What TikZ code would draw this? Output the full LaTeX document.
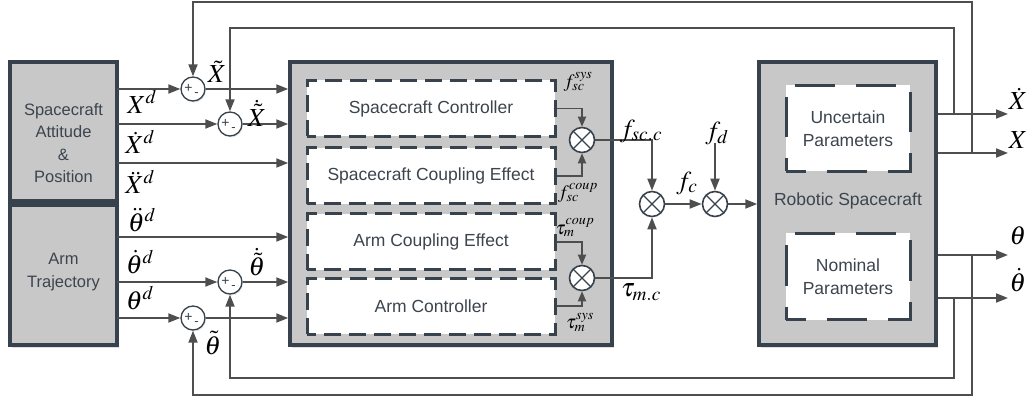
\documentclass[tikz,border=0pt]{standalone}
\usepackage{mathptmx}
\usepackage{fontspec}
\setmainfont{Liberation Sans}
\usetikzlibrary{arrows.meta,shadows}
\definecolor{boxgray}{RGB}{200,200,200}
\definecolor{edgeslate}{RGB}{56,66,76}
\definecolor{linegray}{RGB}{78,78,78}
\definecolor{textslate}{RGB}{60,68,78}

\tikzset{
  block/.style={draw=edgeslate, line width=3.5pt, fill=boxgray, inner sep=0pt,
    drop shadow={shadow xshift=1.5pt, shadow yshift=-2.5pt, opacity=0.25}},
  blocktext/.style={font=\fontsize{16.5}{22.5}\selectfont, text=textslate, align=center, inner sep=0pt},
  subbox/.style={draw=edgeslate, line width=3pt, fill=white, dash pattern=on 17pt off 8pt,
    dash phase=8pt, minimum width=248pt, minimum height=56pt, inner sep=0pt,
    font=\fontsize{17.5}{20}\selectfont, text=textslate},
  parbox/.style={draw=edgeslate, line width=3pt, fill=white, dash pattern=on 40pt off 21pt,
    dash phase=20pt, minimum width=124pt, minimum height=86pt, inner sep=0pt, align=center,
    font=\fontsize{17.5}{23}\selectfont, text=textslate},
  sumj/.style={circle, draw=edgeslate, line width=1.3pt, fill=white, minimum size=24pt, inner sep=0pt,
    drop shadow={shadow xshift=1pt, shadow yshift=-1.5pt, opacity=0.2},
    path picture={
      \node[font=\fontsize{14}{14}\selectfont, text=edgeslate, inner sep=0pt]
        at ([xshift=-4.5pt,yshift=1pt]path picture bounding box.center) {+};
      \node[font=\fontsize{13}{13}\selectfont, text=edgeslate, inner sep=0pt]
        at ([xshift=3.5pt,yshift=-6pt]path picture bounding box.center) {-};}},
  mult/.style={circle, draw=edgeslate, line width=1.6pt, fill=white, minimum size=25pt, inner sep=0pt,
    path picture={
      \draw[edgeslate, line width=1.3pt]
        (path picture bounding box.south west) -- (path picture bounding box.north east)
        (path picture bounding box.north west) -- (path picture bounding box.south east);}},
  sig/.style={draw=linegray, line width=1.8pt, -{Triangle[length=12pt,width=9pt]}},
  sigsmall/.style={draw=linegray, line width=1.8pt, -{Triangle[length=10pt,width=8pt]}},
  lbl/.style={font=\fontsize{26}{26}\selectfont, inner sep=0pt},
  lbls/.style={font=\fontsize{19}{19}\selectfont, inner sep=0pt}
}

\begin{document}
\begin{tikzpicture}[x=1pt,y=-1pt]
    \useasboundingbox (0,0) rectangle (1030,403);
    % Reference blocks
    \node[block, minimum width=107pt, minimum height=139pt] (sap) at (63.5,131.5) {};
    \node[blocktext] (saptxt) at (63.5,143) {Spacecraft\\Attitude\\\&\\Position};
    \node[block, minimum width=107pt, minimum height=140pt] (arm) at (63.5,275) {};
    \node[blocktext] (armtxt) at (63.5,272) {Arm\\Trajectory};
    % Controller block
    \node[block, minimum width=322pt, minimum height=283pt] (ctrl) at (451,203.5) {};
    \node[subbox] (scc) at (431,108.5) {Spacecraft Controller};
    \node[subbox] (sce) at (431,176) {Spacecraft Coupling Effect};
    \node[subbox] (ace) at (431,242) {Arm Coupling Effect};
    \node[subbox] (acc) at (431,306) {Arm Controller};
    % Plant block
    \node[block, minimum width=177pt, minimum height=283pt] (rs) at (847.5,203.5) {};
    \node[parbox] (unc) at (848,128.5) {Uncertain\\Parameters};
    \node[parbox] (nom) at (848,276.5) {Nominal\\Parameters};
    \node[blocktext, font=\fontsize{17.5}{22}\selectfont] (rstxt) at (848,201) {Robotic Spacecraft};
    % Summing junctions
    \node[sumj] (s1) at (193,89) {};
    \node[sumj] (s2) at (230,124) {};
    \node[sumj] (s3) at (230,282) {};
    \node[sumj] (s4) at (193,318) {};
    % Multipliers
    \node[mult] (m1) at (582,140) {};
    \node[mult] (m2) at (582,278) {};
    \node[mult] (a1) at (652,204) {};
    \node[mult] (a2) at (715,204) {};
    % Signal taps
    \coordinate (xd) at (117,89);
    \coordinate (xdd) at (117,124);
    \coordinate (xddd) at (117,163);
    \coordinate (thdd) at (117,237);
    \coordinate (thd) at (117,282);
    \coordinate (th) at (117,318);
    \coordinate (fd) at (715,143);
    \coordinate (outXd) at (1008,114);
    \coordinate (outX) at (1008,153);
    \coordinate (outth) at (1008,255);
    \coordinate (outthd) at (1008,298);
    \coordinate (tX) at (972,153);
    \coordinate (topA) at (972,2);
    \coordinate (tXd) at (954,114);
    \coordinate (topB) at (954,28);
    \coordinate (tth) at (972,255);
    \coordinate (botA) at (972,395);
    \coordinate (tthd) at (954,298);
    \coordinate (botB) at (954,378);
    % Desired states
    \draw[sig] (xd) -- (s1);
    \draw[sig] (s1) -- (s1 -| ctrl.west);
    \draw[sig] (xdd) -- (s2);
    \draw[sig] (s2) -- (s2 -| ctrl.west);
    \draw[sig] (xddd) -- (xddd -| ctrl.west);
    \draw[sig] (thdd) -- (thdd -| ctrl.west);
    \draw[sig] (thd) -- (s3);
    \draw[sig] (s3) -- (s3 -| ctrl.west);
    \draw[sig] (th) -- (s4);
    \draw[sig] (s4) -- (s4 -| ctrl.west);
    % Inside the controller
    \draw[sigsmall] (scc.east) -| (m1.north);
    \draw[sigsmall] (sce.east) -| (m1.south);
    \draw[sigsmall] (ace.east) -| (m2.north);
    \draw[sigsmall] (acc.east) -| (m2.south);
    % Control force
    \draw[sig] (m1.east) -| (a1.north);
    \draw[sig] (m2.east) -| (a1.south);
    \draw[sig] (a1) -- (a2);
    \draw[sig] (fd) -- (a2.north);
    \draw[sig] (a2) -- (a2 -| rs.west);
    % Outputs
    \draw[sig] (rs.east |- outXd) -- (outXd);
    \draw[sig] (rs.east |- outX) -- (outX);
    \draw[sig] (rs.east |- outth) -- (outth);
    \draw[sig] (rs.east |- outthd) -- (outthd);
    % Feedback
    \draw[sig] (tX) -- (topA) -| (s1.north);
    \draw[sig] (tXd) -- (topB) -| (s2.north);
    \draw[sig] (tth) -- (botA) -| (s4.south);
    \draw[sig] (tthd) -- (botB) -| (s3.south);
    % Labels
    \node[lbl] (lXt) at (217,72) {$\tilde{X}$};
    \node[lbl] (lXdt) at (257,113) {$\dot{\tilde{X}}$};
    \node[lbl] (lXd) at (142,102) {$X^{d}$};
    \node[lbl] (lXdd) at (140,142) {$\dot{X}^{d}$};
    \node[lbl] (lXddd) at (140,182) {$\ddot{X}^{d}$};
    \node[lbl] (lthdd) at (142,220) {$\ddot{\theta}^{d}$};
    \node[lbl] (lthd) at (140,262) {$\dot{\theta}^{d}$};
    \node[lbl] (lth) at (140,298) {$\theta^{d}$};
    \node[lbl] (lthdt) at (257,262) {$\dot{\tilde{\theta}}$};
    \node[lbl] (ltht) at (213,343) {$\tilde{\theta}$};
    \node[lbls] (lfsys) at (578,82) {$f_{sc}^{sys}$};
    \node[lbls] (lfcoup) at (578,193) {$f_{sc}^{coup}$};
    \node[lbls] (ltcoup) at (575,228) {$\tau_{m}^{coup}$};
    \node[lbls] (ltsys) at (580,322) {$\tau_{m}^{sys}$};
    \node[lbl] (lfscc) at (641,131) {$f_{sc.c}$};
    \node[lbl] (ltmc) at (641,292) {$\tau_{m.c}$};
    \node[lbl] (lfc) at (687,183) {$f_{c}$};
    \node[lbl] (lfd) at (717,133) {$f_{d}$};
    \node[lbl] (loXd) at (1018,99) {$\dot{X}$};
    \node[lbl] (loX) at (1018,140) {$X$};
    \node[lbl] (loth) at (1018,236) {$\theta$};
    \node[lbl] (lothd) at (1018,280) {$\dot{\theta}$};
\end{tikzpicture}
\end{document}
